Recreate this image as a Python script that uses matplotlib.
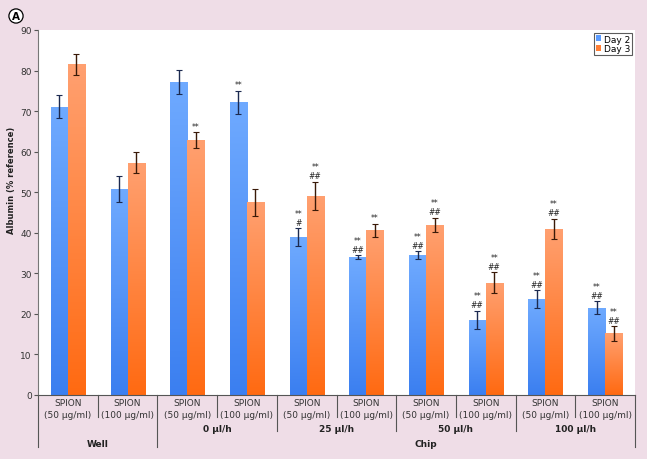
import numpy as np
import matplotlib
matplotlib.use("Agg")
import matplotlib.pyplot as plt
from matplotlib.colors import LinearSegmentedColormap
from matplotlib.transforms import blended_transform_factory

# data
day2 = [71.1, 50.8, 77.2, 72.2, 38.9, 34.0, 34.5, 18.5, 23.6, 21.5]
day2_err = [2.9, 3.2, 2.9, 2.8, 2.2, 0.5, 1.0, 2.3, 2.2, 1.6]
day3 = [81.5, 57.3, 62.9, 47.5, 49.1, 40.6, 41.9, 27.7, 41.0, 15.2]
day3_err = [2.6, 2.5, 1.9, 3.4, 3.5, 1.6, 1.8, 2.6, 2.5, 1.8]
day2_marks = ["", "", "", "**", "**\n#", "**\n##", "**\n##", "**\n##", "**\n##", "**\n##"]
day3_marks = ["", "", "**", "", "**\n##", "**", "**\n##", "**\n##", "**\n##", "**\n##"]
conc = ["SPION\n(50 µg/ml)", "SPION\n(100 µg/ml)"] * 5
flows = ["0 µl/h", "25 µl/h", "50 µl/h", "100 µl/h"]
yticks = [0, 10, 20, 30, 40, 50, 60, 70, 80, 90]

pink = "#efdde7"
blue_cm = LinearSegmentedColormap.from_list("b", ["#3b7ff0", "#6faaff"])
orange_cm = LinearSegmentedColormap.from_list("o", ["#ff6a12", "#ffa070"])

fig = plt.figure(figsize=(6.47, 4.60), dpi=100, facecolor=pink)
ax = fig.add_axes([38/647, 1-396/460, (635-38)/647, (396-31)/460])
ax.set_facecolor("white")

x = np.arange(len(day2))
w = 0.285
b2 = ax.bar(x - w/2, day2, w, color="#5b9bff", label="Day 2", zorder=2)
b3 = ax.bar(x + w/2, day3, w, color="#ff7e35", label="Day 3", zorder=2)

# vertical gradient inside each bar
grad = np.linspace(0, 1, 100).reshape(-1, 1)
for bars, cm in [(b2, blue_cm), (b3, orange_cm)]:
    for p in bars:
        x0, y0 = p.get_x(), p.get_y()
        im = ax.imshow(grad, cmap=cm, origin="lower", aspect="auto",
                       extent=[x0, x0 + p.get_width(), y0, y0 + p.get_height()],
                       zorder=2.5)
        im.set_clip_path(p)

ax.errorbar(x - w/2, day2, yerr=day2_err, fmt="none", ecolor="#1c2a50",
            elinewidth=1, capsize=2, capthick=0.8, zorder=3)
ax.errorbar(x + w/2, day3, yerr=day3_err, fmt="none", ecolor="#3a1a08",
            elinewidth=1, capsize=2, capthick=0.8, zorder=3)

for i in range(len(x)):
    if day2_marks[i]:
        ax.annotate(day2_marks[i], (x[i] - w/2, day2[i] + day2_err[i]),
                    xytext=(0, 1), textcoords="offset points", ha="center",
                    va="bottom", fontsize=5.5, linespacing=1.0, color="#222")
    if day3_marks[i]:
        ax.annotate(day3_marks[i], (x[i] + w/2, day3[i] + day3_err[i]),
                    xytext=(0, 1), textcoords="offset points", ha="center",
                    va="bottom", fontsize=5.5, linespacing=1.0, color="#222")

ax.set_xlim(-0.5, 9.5)
ax.set_ylim(0, 90)
ax.set_yticks(yticks)
ax.tick_params(axis="y", labelsize=6.5, length=3, pad=1.5, color="#555",
               labelcolor="#333")
ax.set_xticks([])
for s in ["top", "right"]:
    ax.spines[s].set_visible(False)
ax.spines["left"].set_color("#777")
ax.spines["bottom"].set_color("#555")

# hierarchical category labels
tr = blended_transform_factory(ax.transData, ax.transAxes)
for i, lab in enumerate(conc):
    ax.text(i, -0.038, lab, transform=tr, ha="center", va="center",
            fontsize=6.5, color="#333", linespacing=1.4)
for i, lab in enumerate(flows):
    ax.text(2.5 + 2*i, -0.093, lab, transform=tr, ha="center", va="center",
            fontsize=6.5, fontweight="bold", color="#222")
ax.text(0.5, -0.132, "Well", transform=tr, ha="center", va="center",
        fontsize=6.5, fontweight="bold", color="#222")
ax.text(6, -0.132, "Chip", transform=tr, ha="center", va="center",
        fontsize=6.5, fontweight="bold", color="#222")

for b in np.arange(-0.5, 10, 1.0):
    if b in (-0.5, 1.5, 9.5):
        y1 = -0.142
    elif b in (3.5, 5.5, 7.5):
        y1 = -0.0986
    else:
        y1 = -0.060
    ax.plot([b, b], [0, y1], transform=tr, color="#555", lw=0.8, clip_on=False)

leg = ax.legend(loc="upper right", bbox_to_anchor=(1.0, 1.0), fontsize=6.5,
                frameon=True, fancybox=False, handlelength=0.6, handleheight=0.6,
                handletextpad=0.3, borderpad=0.2, labelspacing=0.1,
                borderaxespad=0.3)
leg.get_frame().set_edgecolor("#333")
leg.get_frame().set_linewidth(0.8)

fig.text(12/647, 1-180/460, "Albumin (% reference)", rotation=90, ha="center",
         va="center", fontsize=6, fontweight="bold", color="#222")
fig.text(16/647, 1-17/460, "A", ha="center", va="center", fontsize=7.5,
         fontweight="bold",
         bbox=dict(boxstyle="circle,pad=0.2", fc="white", ec="black", lw=0.9))

fig.savefig("out.png", dpi=100, facecolor=pink)
